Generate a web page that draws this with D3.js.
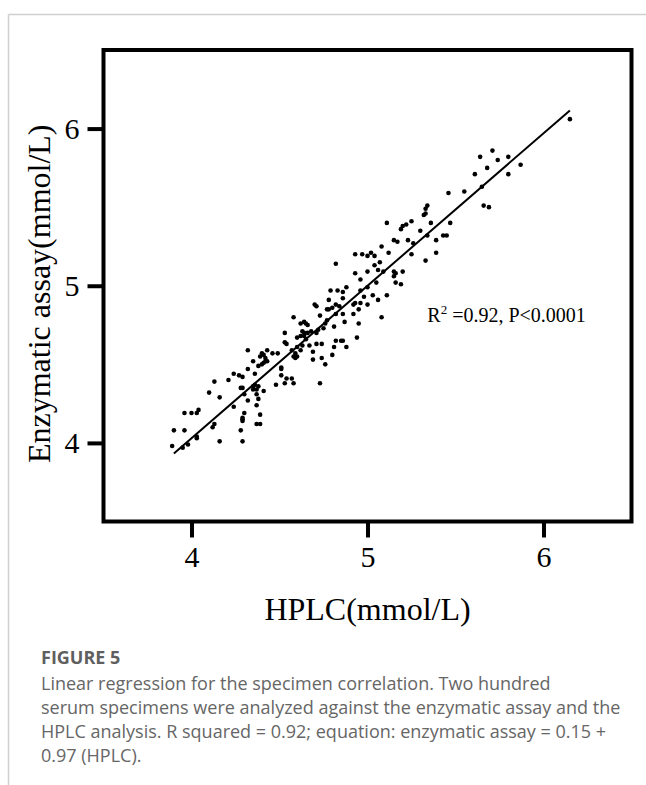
<!DOCTYPE html>
<html>
<head>
<meta charset="utf-8">
<script src="https://cdn.jsdelivr.net/npm/d3@7"></script>
<style>
  body { margin: 0; background: #fff; }
  svg { display: block; }
</style>
</head>
<body>
<div id="mywrap"></div>
<script>
// HPLC (x) and enzymatic assay (y), mmol/L
const hplc = [
  4.53,4.53,4.54,4.32,4.43,4.40,4.41,4.46,4.49,4.39,4.42,4.42,4.41,4.43,4.35,4.38,4.40,4.32,4.51,4.51,
  4.36,4.24,4.27,4.29,4.21,4.13,4.51,4.54,4.48,4.53,4.28,4.29,4.35,4.36,4.38,4.35,4.37,4.41,4.10,4.30,
  4.37,4.16,4.38,4.32,4.24,4.37,4.04,4.03,4.00,3.96,4.30,4.29,4.29,4.29,4.39,4.37,4.39,4.13,4.12,3.90,
  3.96,4.28,4.03,4.03,4.16,4.29,3.89,3.98,3.95,
  6.15,5.71,5.64,5.80,5.74,5.68,5.87,5.61,5.80,5.55,5.65,5.46,5.66,5.69,5.34,5.33,5.33,5.32,5.11,5.25,
  5.22,5.20,5.19,5.36,5.47,5.30,5.34,5.43,5.45,5.15,5.17,5.23,5.26,5.39,5.08,4.82,4.93,4.97,5.02,5.00,
  5.04,5.12,5.25,5.39,5.04,5.06,5.07,5.33,4.93,5.00,5.09,5.15,5.16,5.15,5.20,4.96,4.98,
  5.05,5.16,5.19,4.79,4.83,4.86,4.88,4.96,5.00,5.11,5.06,5.03,4.78,4.86,4.70,4.71,4.82,4.84,4.93,4.96,
  5.00,4.92,4.95,4.77,4.78,4.80,4.73,4.82,4.86,4.92,4.58,5.08,4.77,4.76,4.87,4.95,4.62,4.64,4.65,4.66,
  4.81,4.72,4.75,4.63,4.64,4.66,4.68,4.71,4.62,4.64,4.60,4.65,4.94,4.71,4.74,4.67,4.63,4.82,4.85,4.86,
  4.88,4.81,4.60,4.62,4.59,4.57,4.69,4.80,4.58,4.59,4.60,4.69,4.74,4.76,4.57,4.58,4.73
]
const enzymatic = [
  4.70,4.64,4.63,4.59,4.59,4.57,4.56,4.57,4.57,4.55,4.54,4.52,4.51,4.52,4.52,4.49,4.50,4.47,4.48,4.47,
  4.44,4.44,4.43,4.42,4.40,4.39,4.43,4.41,4.37,4.38,4.35,4.35,4.36,4.37,4.36,4.34,4.34,4.33,4.32,4.31,
  4.31,4.29,4.28,4.27,4.23,4.24,4.21,4.19,4.19,4.19,4.19,4.16,4.15,4.14,4.18,4.12,4.12,4.12,4.10,4.08,
  4.08,4.08,4.04,4.03,4.01,4.01,3.98,3.99,3.97,
  6.06,5.86,5.82,5.82,5.80,5.75,5.77,5.71,5.71,5.60,5.63,5.59,5.51,5.50,5.51,5.49,5.46,5.45,5.40,5.41,
  5.39,5.38,5.36,5.40,5.40,5.35,5.32,5.32,5.32,5.29,5.28,5.29,5.27,5.29,5.25,5.14,5.20,5.20,5.21,5.19,
  5.19,5.21,5.20,5.21,5.13,5.10,5.15,5.16,5.08,5.09,5.09,5.09,5.08,5.06,5.09,5.04,4.93,
  5.02,5.02,5.01,4.97,4.97,4.96,4.99,4.97,4.99,4.94,4.91,4.94,4.91,4.92,4.88,4.87,4.88,4.87,4.89,4.89,
  4.88,4.88,4.85,4.85,4.85,4.86,4.81,4.82,4.82,4.82,4.80,4.80,4.78,4.76,4.77,4.76,4.76,4.77,4.76,4.75,
  4.74,4.72,4.73,4.71,4.70,4.70,4.71,4.70,4.68,4.68,4.67,4.66,4.67,4.63,4.63,4.62,4.62,4.65,4.65,4.65,
  4.61,4.61,4.61,4.59,4.57,4.59,4.58,4.56,4.55,4.54,4.55,4.53,4.54,4.50,4.41,4.38,4.38
]

// enzymatic assay = 0.15 + 0.97 (HPLC), drawn over the HPLC range
const fitCoef = [0.15, 0.97]
const fitRange = [3.9, 6.15]

const xTicks = [4, 5, 6]
const yTicks = [4, 5, 6]

const captionTitle = "FIGURE 5"
const captionLines = [
  "Linear regression for the specimen correlation. Two hundred",
  "serum specimens were analyzed against the enzymatic assay and the",
  "HPLC analysis. R squared = 0.92; equation: enzymatic assay = 0.15 +",
  "0.97 (HPLC)."
]

let sWidth = 646, sHeight = 785
let margin = {top: 50, left: 103.5, right: 14.5}
let width = sWidth - margin.left - margin.right,
    height = 471.5

let svg = d3.select("#mywrap").append("svg")
    .attr("width", sWidth)
    .attr("height", sHeight)

// page frame lines
svg.append("line")
    .attr("x1", 8.5).attr("x2", sWidth).attr("y1", 14.5).attr("y2", 14.5)
    .attr("stroke", "#d0d0d0").attr("stroke-width", 1.5)
svg.append("line")
    .attr("x1", 8.5).attr("x2", 8.5).attr("y1", 14.5).attr("y2", sHeight)
    .attr("stroke", "#d0d0d0").attr("stroke-width", 1.5)

let g = svg.append("g").attr("transform", `translate(${margin.left},${margin.top})`)

let xScale = d3.scaleLinear().domain([3.5, 6.5]).range([0, width])
let yScale = d3.scaleLinear().domain([3.5, 6.5]).range([height, 0])

let xAxis = d3.axisBottom(xScale).tickValues(xTicks).tickFormat(d3.format("d"))
    .tickSize(16).tickSizeOuter(0).tickPadding(8)
let yAxis = d3.axisLeft(yScale).tickValues(yTicks).tickFormat(d3.format("d"))
    .tickSize(16).tickSizeOuter(0).tickPadding(8)

let gx = g.append("g").attr("transform", `translate(0,${height})`).call(xAxis)
let gy = g.append("g").call(yAxis)

;[gx, gy].forEach(a => {
    a.select(".domain").remove()
    a.selectAll(".tick line").attr("stroke", "#000").attr("stroke-width", 4)
    a.selectAll(".tick text")
        .attr("fill", "#000")
        .style("font-family", "'Liberation Serif', 'Times New Roman', serif")
        .style("font-size", "30px")
})

// box
g.append("rect")
    .attr("x", 0).attr("y", 0)
    .attr("width", width).attr("height", height)
    .attr("fill", "none")
    .attr("stroke", "#000")
    .attr("stroke-width", 4)

// points
g.selectAll("circle")
    .data(hplc.map((d, i) => [d, enzymatic[i]]))
    .enter()
    .append("circle")
    .attr("cx", d => xScale(d[0]))
    .attr("cy", d => yScale(d[1]))
    .attr("r", 2.3)
    .attr("fill", "#000")

// regression line
g.append("line")
    .attr("x1", xScale(fitRange[0]))
    .attr("y1", yScale(fitCoef[0] + fitCoef[1] * fitRange[0]))
    .attr("x2", xScale(fitRange[1]))
    .attr("y2", yScale(fitCoef[0] + fitCoef[1] * fitRange[1]))
    .attr("stroke", "#000")
    .attr("stroke-width", 2)

// R2 annotation
let ann = g.append("text")
    .attr("x", xScale(5.34))
    .attr("y", yScale(4.77))
    .style("font-family", "'Liberation Serif', 'Times New Roman', serif")
    .style("font-size", "20px")
    .attr("fill", "#000")
ann.append("tspan").text("R")
ann.append("tspan").attr("dy", -8).style("font-size", "13px").text("2")
ann.append("tspan").attr("dy", 8).text(" =0.92, P<0.0001")

// axis titles
svg.append("text")
    .attr("x", margin.left + width / 2)
    .attr("y", 620)
    .attr("text-anchor", "middle")
    .style("font-family", "'Liberation Serif', 'Times New Roman', serif")
    .style("font-size", "32px")
    .text("HPLC(mmol/L)")

svg.append("text")
    .attr("transform", `translate(50,${margin.top + height / 2 + 8}) rotate(-90)`)
    .attr("text-anchor", "middle")
    .style("font-family", "'Liberation Serif', 'Times New Roman', serif")
    .style("font-size", "32px")
    .text("Enzymatic assay(mmol/L)")

// caption
svg.append("text")
    .attr("x", 41)
    .attr("y", 664)
    .style("font-family", "'Open Sans', sans-serif")
    .style("font-size", "18px")
    .style("font-weight", "bold")
    .attr("fill", "#5f5f5f")
    .text(captionTitle)

svg.selectAll(".cap")
    .data(captionLines)
    .enter()
    .append("text")
    .attr("class", "cap")
    .attr("x", 41)
    .attr("y", (d, i) => 690 + i * 24)
    .style("font-family", "'Open Sans', sans-serif")
    .style("font-size", "18px")
    .attr("fill", "#666")
    .text(d => d)
</script>
</body>
</html>
